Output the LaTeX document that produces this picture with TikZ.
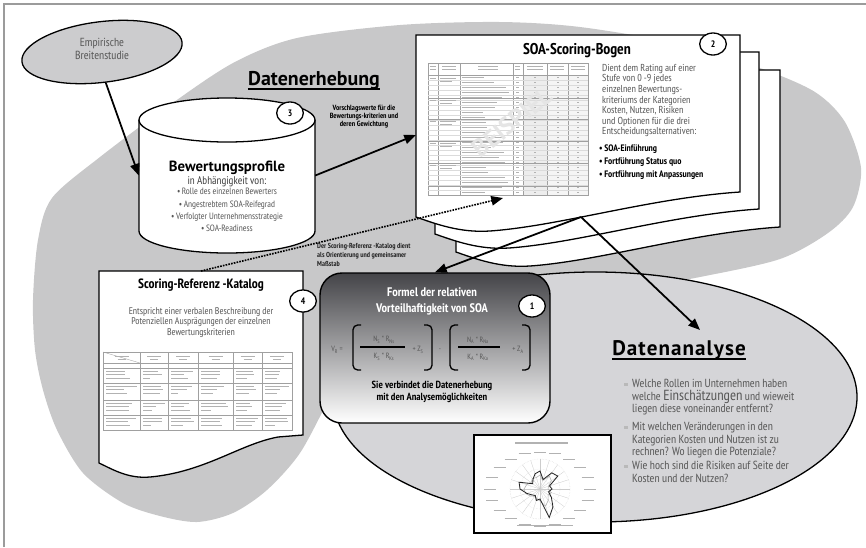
\documentclass[tikz,border=0pt]{standalone}
\usepackage{fontspec}
\setmainfont{PT Sans Narrow}
\newfontfamily\widefont{PT Sans}
\usetikzlibrary{arrows.meta, shapes.geometric, positioning}

\definecolor{areagrey}{RGB}{200,200,201}
\definecolor{analysegrey}{RGB}{213,213,216}
\definecolor{studygrey}{RGB}{204,204,206}
\definecolor{framegrey}{RGB}{155,155,155}
\definecolor{textsub}{RGB}{88,88,88}
\definecolor{boxtop}{RGB}{68,68,72}
\definecolor{boxmid}{RGB}{168,168,172}
\definecolor{thumbline}{RGB}{160,160,160}
\definecolor{thumbtext}{RGB}{178,178,178}

\tikzset{
  heading/.style={font=\widefont\bfseries\fontsize{17}{20}\selectfont, anchor=base, inner sep=0pt},
  underbar/.style={line width=1.7pt},
  badge/.style={ellipse, draw, line width=1.1pt, fill=white, inner sep=0pt,
    minimum width=0.8cm, minimum height=0.66cm,
    font=\bfseries\fontsize{8}{9}\selectfont},
  paper/.style={draw, line width=1.1pt, fill=white},
  greytext/.style={text=textsub, inner sep=0pt},
  formelbox/.style={rectangle, rounded corners=0.66cm, draw, line width=1.2pt,
    minimum width=6.9cm, minimum height=4.5cm,
    top color=boxtop, middle color=boxmid, bottom color=white},
  formeltext/.style={text=textsub, inner sep=0pt, font=\fontsize{6.5}{7}\selectfont},
  bracket/.style={line width=1.1pt, rounded corners=4pt},
  fracbar/.style={line width=2.4pt},
  arrow/.style={-{Triangle[length=10pt,width=8pt]}, line width=1.5pt},
  dotarrow/.style={-{Triangle[length=10pt,width=8pt]}, line width=1.4pt, densely dotted},
  thumb/.style={draw=thumbline, line width=0.3pt},
  scribble/.style={draw=thumbtext, line width=0.6pt},
  qmark/.style={fill=gray!55, inner sep=0pt, minimum size=3pt},
}

\begin{document}
\begin{tikzpicture}[x=0.03cm, y=-0.03cm]
\useasboundingbox (0,0) rectangle (866,547);
\pgfmathsetseed{7}

%% ─── FRAME ──────────────────────────────────────────────────
\draw[framegrey, line width=1.5pt] (4,547) -- (4,4) -- (866,4);

%% ─── DATENERHEBUNG (grey area) ──────────────────────────────
\fill[areagrey] plot[smooth cycle] coordinates {
  (297,38) (400,25) (500,22) (580,27) (680,44) (760,68) (815,92) (845,122)
  (861,168) (853,207) (828,233) (780,259) (700,277) (610,293) (500,315)
  (400,340) (345,370) (330,397) (300,453) (267,490) (233,513) (197,522)
  (160,516) (123,503) (83,473) (57,430) (43,390) (35,350) (33,300) (38,240)
  (52,198) (100,157) (167,107) (233,63)};

%% ─── DATENANALYSE (ellipse) ─────────────────────────────────
\node[ellipse, draw, line width=1.1pt, fill=analysegrey,
      minimum width=15.72cm, minimum height=7.5cm] (analyse) at (595,397) {};

%% ─── EMPIRISCHE STUDIE ──────────────────────────────────────
\node[ellipse, draw, line width=1.1pt, fill=studygrey,
      minimum width=4.84cm, minimum height=1.82cm, rotate=7] (studie) at (102,52) {};
\node[greytext, anchor=north, align=center, font=\fontsize{10}{10.7}\selectfont]
  (studietext) at (102,38) {Empirische\\Breitenstudie};

%% heading
\node[heading] (erhebung) at (314,85) {Datenerhebung};
\draw[underbar] ([yshift=-3pt]erhebung.base west) -- ([yshift=-3pt]erhebung.base east);

%% ─── BEWERTUNGSPROFILE (cylinder) ───────────────────────────
\draw[paper] (139,120) -- (139,231)
  arc[start angle=180, end angle=0, x radius=88, y radius=22] -- (315,120);
\draw[paper] (227,120) ellipse[x radius=88, y radius=22];
\node[minimum width=5.28cm, minimum height=3.33cm, inner sep=0pt] (profil) at (227,175.5) {};

\node[anchor=base, inner sep=0pt, font=\widefont\bfseries\fontsize{12.6}{14}\selectfont]
  (profiltitel) at (227,171) {Bewertungsprofile};
\node[greytext, anchor=base, text=black!75, font=\fontsize{9.5}{11}\selectfont]
  (profilsub) at (227,184) {in Abhängigkeit von:};
\node[greytext, anchor=north, align=center, font=\fontsize{7.8}{10.5}\selectfont]
  (profilliste) at (227,188) {%
    \textbullet\,Rolle des einzelnen Bewerters\\
    \textbullet\,Angestrebtem SOA-Reifegrad\\
    \textbullet\,Verfolgter Unternehmensstrategie\\
    \textbullet\,SOA-Readiness};
\node[badge] (nr3) at (290,113) {3};

\node[anchor=north, align=center, inner sep=0pt, font=\bfseries\fontsize{6.4}{6.8}\selectfont]
  (vorschlag) at (364,105) {Vorschlagswerte für die\\Bewertungs-kriterien und\\deren Gewichtung};

%% ─── SOA-SCORING-BOGEN (page stack) ─────────────────────────
\foreach \dx/\dy in {40/35, 19/17, 0/0}
  \draw[paper, shift={(\dx,\dy)}] (416,35) -- (740,35) -- (740,192)
    .. controls (650,198) and (560,226) .. (490,231)
    .. controls (460,233) and (436,224) .. (416,217) -- cycle;

%% table thumbnail
\fill[gray!14] (523,75) rectangle (547,195);
\fill[gray!8] (547,75) rectangle (588,195);
\draw[thumb] (428,63) rectangle (588,195);
\foreach \cx in {438,460,513,523,547,568}
  \draw[thumb] (\cx,63) -- (\cx,195);
\foreach \ry in {75,80,...,190}
  \draw[gray!28, line width=0.2pt] (428,\ry) -- (588,\ry);
\foreach \ry in {75,98,119,141,163,186}
  \draw[thumb, line width=0.45pt] (428,\ry) -- (588,\ry);
\foreach \ry in {77.5,82.5,...,192.5}{
  \draw[scribble, line width=0.5pt] (462,\ry) -- ++({18+30*rnd},0);
  \draw[scribble, line width=0.5pt] (516,\ry) -- ++(3,0);
  \draw[scribble, line width=0.5pt] (534,\ry) -- ++(2,0);
  \draw[scribble, line width=0.5pt] (557,\ry) -- ++(2,0);
  \draw[scribble, line width=0.5pt] (577,\ry) -- ++(2,0);
}
\foreach \ry in {78,100,121,143,165}{
  \draw[scribble, line width=0.5pt] (440,\ry) -- ++(16,0);
  \draw[scribble, line width=0.5pt] (440,\ry+3) -- ++(12,0);
  \draw[scribble, line width=0.5pt] (430,\ry) -- ++(6,0);
}
\foreach \cx/\cw in {430/6, 442/14, 478/20, 515/5, 527/16, 550/14, 571/14}{
  \draw[scribble, line width=0.5pt] (\cx,66) -- ++(\cw,0);
  \draw[scribble, line width=0.5pt] (\cx,69.5) -- ++(\cw,0);
}
\node[rotate=39, inner sep=0pt, text=gray!20,
      font=\widefont\bfseries\fontsize{21}{21}\selectfont] (beispiel) at (512,122) {BEISPIEL};

\node[anchor=base, inner sep=0pt, font=\bfseries\fontsize{13.3}{15}\selectfont]
  (bogentitel) at (577,54.3) {SOA-Scoring-Bogen};
\node[greytext, anchor=north west, align=left, font=\fontsize{8.6}{9}\selectfont]
  (bogentext) at (602,64) {Dient dem Rating auf einer\\Stufe von 0 -9 jedes\\einzelnen Bewertungs-\\kriteriums der Kategorien\\Kosten, Nutzen, Risiken\\und Optionen für die drei\\Entscheidungsalternativen:};
\node[anchor=north west, align=left, inner sep=0pt, font=\bfseries\fontsize{8}{11}\selectfont]
  (alternativen) at (599,144.4) {%
    \textbullet\,SOA-Einführung\\
    \textbullet\,Fortführung Status quo\\
    \textbullet\,Fortführung mit Anpassungen};
\node[badge] (nr2) at (713,44) {2};

\coordinate (bogen-in) at (416,135);
\coordinate (bogen-dot) at (503,198);
\coordinate (bogen-out) at (581,217);

%% ─── SCORING-REFERENZ-KATALOG ───────────────────────────────
\draw[paper] (99,271) -- (303,271) -- (303,435) -- (278,437)
  .. controls (240,444) and (205,472) .. (150,477)
  .. controls (128,479) and (112,469) .. (99,463) -- cycle;
\coordinate (katalog-top) at (201,271);

\node[anchor=base, inner sep=0pt, font=\bfseries\fontsize{11.5}{13}\selectfont]
  (katalogtitel) at (201,288) {Scoring-Referenz -Katalog};
\node[greytext, anchor=north, align=center, font=\fontsize{8.3}{9.1}\selectfont]
  (katalogtext) at (201,307) {Entspricht einer verbalen Beschreibung der\\Potenziellen Ausprägungen der einzelnen\\Bewertungskriterien};

%% table thumbnail
\draw[thumb, line width=0.45pt] (103,352) rectangle (292,430);
\foreach \cx in {140,168,198,233,262}
  \draw[thumb, line width=0.45pt] (\cx,352) -- (\cx,430);
\foreach \ry in {363,368,383,400,415}
  \draw[thumb, line width=0.45pt] (103,\ry) -- (292,\ry);
\draw[thumb] (103,352) -- (140,363);
\foreach \xa/\xb in {103/140,140/168,168/198,198/233,233/262,262/292}{
  \draw[scribble] ({(\xa+\xb)/2-7},356) -- ++(14,0);
  \draw[scribble] ({(\xa+\xb)/2-4},359.5) -- ++(8,0);
  \foreach \ry in {371,386,403,418}{
    \draw[scribble] (\xa+3,\ry) -- ++({(\xb-\xa-6)*(0.6+0.4*rnd)},0);
    \draw[scribble] (\xa+3,\ry+3.5) -- ++({(\xb-\xa-6)*(0.5+0.5*rnd)},0);
    \draw[scribble] (\xa+3,\ry+7) -- ++({(\xb-\xa-6)*(0.3+0.5*rnd)},0);
  }
}
\node[badge] (nr4) at (303,301) {4};

\node[anchor=north west, align=left, inner sep=0pt, text=black!85,
      font=\bfseries\fontsize{6.2}{7.65}\selectfont]
  (referenzlabel) at (317,243.2) {Der Scoring-Referenz -Katalog dient\\als Orientierung und gemeinsamer\\Maßstab};

%% ─── FORMEL ─────────────────────────────────────────────────
\node[formelbox] (formel) at (435,348) {};
\node[anchor=north, align=center, inner sep=0pt, text=white,
      font=\bfseries\fontsize{10.6}{13.6}\selectfont]
  (formeltitel) at (432,287.6) {Formel der relativen\\Vorteilhaftigkeit von SOA};
\node[badge] (nr1) at (532,306) {1};

\node[formeltext] (vr) at (337,350) {V\textsubscript{R} =};
\draw[bracket] (361,325) -- (353,325) -- (353,370) -- (361,370);
\draw[bracket] (424,325) -- (432,325) -- (432,370) -- (424,370);
\node[formeltext] (ns) at (384,340) {N\textsubscript{S} * R\textsubscript{Ns}};
\draw[fracbar] (360,347) -- (405,347);
\node[formeltext] (ks) at (384,357) {K\textsubscript{S} * R\textsubscript{Ks}};
\node[formeltext] (zs) at (418,350) {+ Z\textsubscript{S}};
\node[formeltext] (minus) at (440,350) {-};
\draw[bracket] (458,325) -- (450,325) -- (450,370) -- (458,370);
\draw[bracket] (522,325) -- (530,325) -- (530,370) -- (522,370);
\node[formeltext] (na) at (478,340) {N\textsubscript{A} * R\textsubscript{Na}};
\draw[fracbar] (458,347) -- (500,347);
\node[formeltext] (ka) at (478,357) {K\textsubscript{A} * R\textsubscript{Ka}};
\node[formeltext] (za) at (518,350) {+ Z\textsubscript{A}};

\node[anchor=north, align=center, inner sep=0pt, font=\bfseries\fontsize{8.8}{10.5}\selectfont]
  (formelsub) at (432,380.7) {Sie verbindet die Datenerhebung\\mit den Analysemöglichkeiten};

%% ─── DATENANALYSE TEXT ──────────────────────────────────────
\node[heading, font=\widefont\bfseries\fontsize{18}{20}\selectfont\addfontfeature{LetterSpace=5}]
  (analysetitel) at (679,355) {Datenanalyse};
\draw[underbar] ([yshift=-3pt]analysetitel.base west) -- ([yshift=-3pt]analysetitel.base east);
\coordinate (analyse-in) at (700,330);

\node[qmark] (mark1) at (626,384.5) {};
\node[greytext, anchor=north west, align=left, font=\fontsize{10}{10.6}\selectfont]
  (frage1) at (632,379.4) {Welche Rollen im Unternehmen haben\\welche {\fontsize{12.5}{10.6}\selectfont Einschätzungen} und wieweit\\liegen diese voneinander entfernt?};
\node[qmark] (mark2) at (626,427.5) {};
\node[greytext, anchor=north west, align=left, font=\fontsize{10}{10.6}\selectfont]
  (frage2) at (632,422.4) {Mit welchen Veränderungen in den\\Kategorien Kosten und Nutzen ist zu\\rechnen? Wo liegen die Potenziale?};
\node[qmark] (mark3) at (626,466.5) {};
\node[greytext, anchor=north west, align=left, font=\fontsize{10}{10.6}\selectfont]
  (frage3) at (632,461.4) {Wie hoch sind die Risiken auf Seite der\\Kosten und der Nutzen?};

%% radar chart thumbnail
\node[paper, rectangle, minimum width=4.11cm, minimum height=2.94cm, inner sep=0pt]
  (radar) at (542.5,484) {};
\draw[scribble, line width=1pt] (515,443) -- (568,443);
\draw[scribble, line width=0.8pt] (517,525) -- (573,525);
\begin{scope}[shift={(540,489)}]
  \foreach \r in {10,20,30}
    \draw[gray!40, line width=0.3pt, densely dotted] (0,0) circle[radius=\r];
  \foreach \a in {0,18,...,342}{
    \draw[gray!40, line width=0.25pt] (0,0) -- (\a:30);
    \draw[scribble, line width=0.8pt] (\a:50 and 37) +(-6,0) -- +(6,0);
  }
  \draw[gray!60, line width=0.5pt] (0:8) -- (18:12) -- (36:10) -- (54:14) -- (72:18)
    -- (90:12) -- (108:10) -- (126:9) -- (144:12) -- (162:15) -- (180:16) -- (198:14)
    -- (216:11) -- (234:13) -- (252:12) -- (270:14) -- (288:9) -- (306:16) -- (324:14)
    -- (342:9) -- cycle;
  \draw[gray!30!black, line width=0.7pt] (0:12) -- (18:9) -- (36:14) -- (54:22) -- (72:30)
    -- (90:10) -- (108:12) -- (126:8) -- (144:10) -- (162:14) -- (180:20) -- (198:22)
    -- (216:9) -- (234:12) -- (252:16) -- (270:18) -- (288:10) -- (306:20) -- (324:22)
    -- (342:10) -- cycle;
\end{scope}

%% ─── CONNECTORS ─────────────────────────────────────────────
\draw[arrow] (studie.south) -- (profil.west);
\draw[arrow] (profil.east) -- (bogen-in);
\draw[dotarrow] (katalog-top) -- (bogen-dot);
\draw[arrow] (bogen-out) -- (formel.north);
\draw[arrow] (bogen-out) -- (analyse-in);

\end{tikzpicture}
\end{document}
